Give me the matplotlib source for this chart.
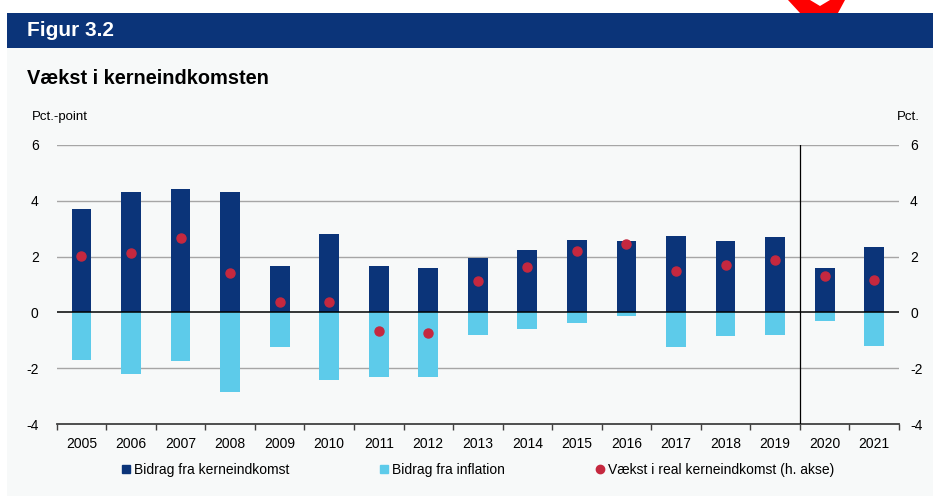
import matplotlib
matplotlib.use("Agg")
import matplotlib.pyplot as plt
from matplotlib.lines import Line2D
from matplotlib.patches import Rectangle, Polygon
import numpy as np

plt.rcParams['font.family'] = ['Liberation Sans', 'DejaVu Sans']

years = [str(y) for y in range(2005, 2022)]
# Bidrag fra kerneindkomst (pct.-point)
bidrag_kerne = [3.72, 4.33, 4.41, 4.30, 1.65, 2.80, 1.65, 1.60, 1.94,
                2.23, 2.59, 2.56, 2.74, 2.56, 2.72, 1.60, 2.35]
# Bidrag fra inflation (pct.-point)
bidrag_infl = [-1.70, -2.20, -1.74, -2.87, -1.25, -2.44, -2.32, -2.32, -0.80,
               -0.60, -0.38, -0.12, -1.25, -0.85, -0.82, -0.30, -1.20]
# Vaekst i real kerneindkomst (pct., h. akse)
vaekst_real = [2.03, 2.14, 2.68, 1.43, 0.39, 0.37, -0.67, -0.73, 1.11,
               1.63, 2.20, 2.44, 1.48, 1.71, 1.89, 1.30, 1.16]
yticks = [-4, -2, 0, 2, 4, 6]

DARK = '#0B3479'
LIGHT = '#5DCBEA'
RED = '#C5283F'
BG = '#F7F9F9'

W, H = 933, 496
fig = plt.figure(figsize=(W / 100, H / 100), dpi=100)
fig.patch.set_facecolor('white')

# panel background + banner (kept behind the axes)
fig.patches.append(Rectangle((7 / W, 0), 1 - 7 / W, 1 - 48 / H, transform=fig.transFigure,
                             facecolor=BG, edgecolor='none', zorder=-10))
fig.patches.append(Rectangle((7 / W, 1 - 48 / H), 1 - 7 / W, 35 / H, transform=fig.transFigure,
                             facecolor=DARK, edgecolor='none', zorder=-9))
pts = [(788, 0), (810, 0), (820, 6), (830, 0), (845, 0), (838, 13), (800, 13)]
fig.patches.append(Polygon([(x / W, 1 - y / H) for x, y in pts], closed=True,
                           transform=fig.transFigure, facecolor='#FF0000',
                           edgecolor='none', zorder=-9))
fig.text(27 / W, 1 - 31 / H, 'Figur 3.2', color='white', fontsize=15,
         fontweight='bold', va='center', ha='left')
fig.text(27 / W, 1 - 79 / H, 'Vækst i kerneindkomsten', color='black', fontsize=14.4,
         fontweight='bold', va='center', ha='left')
fig.text(32 / W, 1 - 117 / H, 'Pct.-point', fontsize=9.5, va='center', ha='left')
fig.text(920 / W, 1 - 117 / H, 'Pct.', fontsize=9.5, va='center', ha='right')

ax = fig.add_axes([56.7 / W, 1 - 424 / H, (899 - 56.7) / W, (424 - 145) / H])
ax.set_facecolor('none')
x = np.arange(len(years))
ax.bar(x, bidrag_kerne, width=0.4, color=DARK, zorder=3)
ax.bar(x, bidrag_infl, width=0.4, color=LIGHT, zorder=3)

ax.set_xlim(-0.5, len(years) - 0.5)
ax.set_ylim(-4, 6)
ax.set_yticks(yticks)
ax.set_yticklabels([str(v) for v in yticks], fontsize=10)
for v in yticks:
    if v == 0:
        ax.axhline(v, color='black', lw=1.1, zorder=4)
    elif v > -4:
        ax.axhline(v, color='#A6A6A6', lw=1.0, zorder=1)
ax.axvline(14.5, color='black', lw=0.9, zorder=4)

ax.set_xticks(np.arange(-0.5, len(years), 1.0))
ax.set_xticklabels([])
ax.set_xticks(x, minor=True)
ax.set_xticklabels(years, minor=True, fontsize=10)
ax.tick_params(axis='x', which='major', direction='out', length=4, width=1, color='#404040')
ax.tick_params(axis='x', which='minor', length=0, pad=9)
ax.tick_params(axis='y', length=0, pad=13)
for s in ['top', 'left', 'right']:
    ax.spines[s].set_visible(False)
ax.spines['bottom'].set_color('#404040')
ax.spines['bottom'].set_linewidth(1.3)

ax2 = ax.twinx()
ax2.set_ylim(-4, 6)
ax2.set_yticks(yticks)
ax2.set_yticklabels([str(v) for v in yticks], fontsize=10)
ax2.tick_params(axis='y', length=0, pad=8)
for s in ax2.spines.values():
    s.set_visible(False)
ax2.plot(x, vaekst_real, linestyle='none', marker='o', markersize=6.5,
         color=RED, zorder=5)

handles = [
    Line2D([], [], linestyle='none', marker='s', markersize=6, color=DARK),
    Line2D([], [], linestyle='none', marker='s', markersize=6, color=LIGHT),
    Line2D([], [], linestyle='none', marker='o', markersize=6, color=RED),
]
labels = ['Bidrag fra kerneindkomst', 'Bidrag fra inflation',
          'Vækst i real kerneindkomst (h. akse)']
fig.legend(handles, labels, loc='center', bbox_to_anchor=(478 / W, 1 - 470 / H),
           ncol=3, frameon=False, fontsize=10, handlelength=0.6, handletextpad=0.3,
           columnspacing=6.5)

fig.savefig('out.png', dpi=100, facecolor=fig.get_facecolor())
